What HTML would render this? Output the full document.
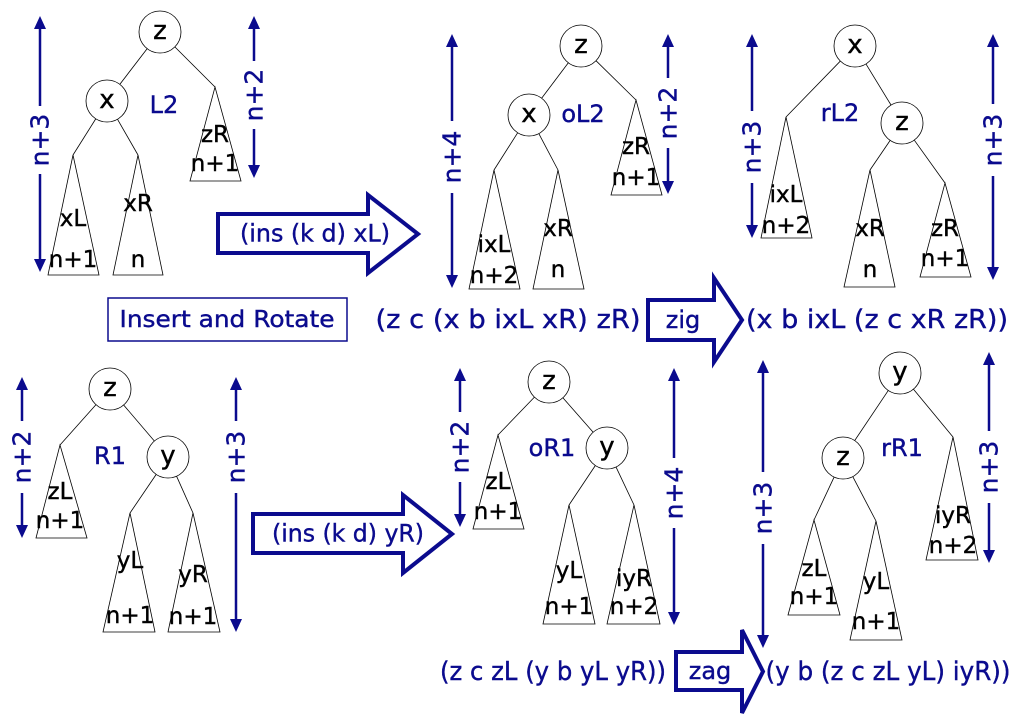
<!DOCTYPE html>
<html><head><meta charset="utf-8">
<style>
html,body{margin:0;padding:0;background:#fff;}
svg{display:block;}
text{font-family:"DejaVu Sans","Liberation Sans",sans-serif;}
</style></head>
<body>
<svg id="s" width="1018" height="720" viewBox="0 0 1018 720" xmlns="http://www.w3.org/2000/svg">
<rect width="1018" height="720" fill="#fff"/>
</svg>
<script>
const NS="http://www.w3.org/2000/svg";
const svg=document.getElementById('s');
const BLUE="#0b0b8e";
function mk(tag,attrs,name){
  const e=document.createElementNS(NS,tag);
  for(const k in attrs) e.setAttribute(k,attrs[k]);
  
  
  svg.appendChild(e);
  return e;
}
function txt(x,y,s,name,opts){
  opts=opts||{};
  const f=opts.fill||'#000';
  const t=mk('text',{x:x,y:y,'text-anchor':'middle','dominant-baseline':'central','font-size':opts.size||22,fill:f,stroke:f,'stroke-width':0.4},name);
  if(opts.rot) t.setAttribute('transform','rotate(-90 '+x+' '+y+')');
  if(opts.len){ t.setAttribute('textLength',opts.len); t.setAttribute('lengthAdjust','spacingAndGlyphs'); }
  t.textContent=s;
  return t;
}
function node(cx,cy,label,name){
  mk('circle',{cx:cx,cy:cy,r:21,fill:'#fff',stroke:'#000','stroke-width':0.8},name+'-circle');
  txt(cx,cy-1,label,name+'-label',{size:26});
}
function edge(cx,cy,x2,y2,name){
  const dx=x2-cx,dy=y2-cy,d=Math.hypot(dx,dy);
  mk('line',{x1:cx+dx/d*21,y1:cy+dy/d*21,x2:x2,y2:y2,stroke:'#000','stroke-width':0.8},name);
}
function tri(ax,ay,x1,x2,by,t1,t1y,t2,t2y,name){
  mk('polygon',{points:ax+','+ay+' '+x2+','+by+' '+x1+','+by,fill:'#fff',stroke:'#000','stroke-width':0.8},name+'-triangle');
  txt(ax,t1y,t1,name+'-name',{size:23});
  txt(ax,t2y,t2,name+'-height',{size:23});
}
function varrow(x,y1,y2,label,ly,gap,name){
  gap=gap+4;
  mk('line',{x1:x,y1:y1+10,x2:x,y2:ly-gap,stroke:BLUE,'stroke-width':2.5},name+'-upper-line');
  mk('line',{x1:x,y1:ly+gap,x2:x,y2:y2-10,stroke:BLUE,'stroke-width':2.5},name+'-lower-line');
  mk('polygon',{points:x+','+y1+' '+(x-6)+','+(y1+13)+' '+(x+6)+','+(y1+13),fill:BLUE},name+'-top-head');
  mk('polygon',{points:x+','+y2+' '+(x-6)+','+(y2-13)+' '+(x+6)+','+(y2-13),fill:BLUE},name+'-bottom-head');
  txt(x,ly,label,name+'-label',{fill:BLUE,rot:true,size:25});
}
function bigArrow(x1,top,bot,x2,htop,tip,hbot,label,tx,name,len){
  const my=(top+bot)/2;
  mk('polygon',{points:[x1+','+top,x2+','+top,x2+','+htop,tip+','+((htop+hbot)/2),x2+','+hbot,x2+','+bot,x1+','+bot].join(' '),fill:'#fff',stroke:BLUE,'stroke-width':4},name);
  txt(tx,my,label,name+'-label',{fill:BLUE,size:24,len:len});
}

/* ---- Top-left: L2 ---- */
varrow(40,16,272,'n+3',140,30,'tl-height-n3');
varrow(254,16,178,'n+2',95,30,'tl-height-n2');
edge(160,32,107,101,'tl-edge-z-x');
edge(160,32,215,87,'tl-edge-z-zR');
edge(107,101,73,155,'tl-edge-x-xL');
edge(107,101,138,155,'tl-edge-x-xR');
node(160,32,'z','tl-node-z');
node(107,101,'x','tl-node-x');
txt(164,105,'L2','tl-case-label',{fill:BLUE,size:24});
tri(215,87,190,241,181,'zR',135,'n+1',164,'tl-subtree-zR');
tri(73,155,48,99,275,'xL',219,'n+1',260,'tl-subtree-xL');
tri(138,155,113,163,275,'xR',204,'n',260,'tl-subtree-xR');
bigArrow(218,214,253,368,195,418,273,'(ins (k d) xL)',315,'tl-insert-arrow',150);
mk('rect',{x:108,y:298,width:239,height:43,fill:'#fff',stroke:BLUE,'stroke-width':1.5},'insert-rotate-box');
txt(227,320,'Insert and Rotate','insert-rotate-title',{fill:BLUE,size:23,len:215});

/* ---- Top-middle: oL2 ---- */
varrow(452,34,288,'n+4',157,32,'tm-height-n4');
varrow(668,34,194,'n+2',113,31,'tm-height-n2');
edge(581,46,529,115,'tm-edge-z-x');
edge(581,46,636,100,'tm-edge-z-zR');
edge(529,115,494,170,'tm-edge-x-ixL');
edge(529,115,558,170,'tm-edge-x-xR');
node(581,46,'z','tm-node-z');
node(529,115,'x','tm-node-x');
txt(583,114,'oL2','tm-case-label',{fill:BLUE,size:24});
tri(636,100,611,662,195,'zR',147,'n+1',178,'tm-subtree-zR');
tri(494,170,469,520,289,'ixL',245,'n+2',276,'tm-subtree-ixL');
tri(558,170,533,584,289,'xR',229,'n',270,'tm-subtree-xR');

/* ---- Top-right: rL2 ---- */
varrow(752,34,238,'n+3',147,32,'tr-height-n3-left');
varrow(993,34,280,'n+3',140,32,'tr-height-n3-right');
edge(855,46,786,117,'tr-edge-x-ixL');
edge(855,46,902,123,'tr-edge-x-z');
edge(902,123,870,170,'tr-edge-z-xR');
edge(902,123,945,183,'tr-edge-z-zR');
node(855,46,'x','tr-node-x');
node(902,123,'z','tr-node-z');
txt(840,113,'rL2','tr-case-label',{fill:BLUE,size:24});
tri(786,117,761,812,238,'ixL',195,'n+2',226,'tr-subtree-ixL');
tri(870,170,844,895,287,'xR',229,'n',270,'tr-subtree-xR');
tri(945,183,920,971,277,'zR',229,'n+1',259,'tr-subtree-zR');

/* ---- Middle expression row ---- */
txt(508,320,'(z c (x b ixL xR) zR)','zig-before-expr',{fill:BLUE,size:26,len:265});
bigArrow(648,300,340,714,278,742,362,'zig',683,'zig-arrow');
txt(877,320,'(x b ixL (z c xR zR))','zig-after-expr',{fill:BLUE,size:26,len:262});

/* ---- Bottom-left: R1 ---- */
varrow(22,377,538,'n+2',457,32,'bl-height-n2');
varrow(236,377,632,'n+3',457,32,'bl-height-n3');
edge(110,389,60,445,'bl-edge-z-zL');
edge(110,389,168,457,'bl-edge-z-y');
edge(168,457,130,513,'bl-edge-y-yL');
edge(168,457,193,513,'bl-edge-y-yR');
node(110,389,'z','bl-node-z');
node(168,457,'y','bl-node-y');
txt(110,456,'R1','bl-case-label',{fill:BLUE,size:24});
tri(60,445,36,87,538,'zL',492,'n+1',521,'bl-subtree-zL');
tri(130,513,103,155,632,'yL',561,'n+1',616,'bl-subtree-yL');
tri(193,513,168,220,632,'yR',575,'n+1',617,'bl-subtree-yR');
bigArrow(253,514,553,403,495,452,573,'(ins (k d) yR)',348,'bl-insert-arrow',152);

/* ---- Bottom-middle: oR1 ---- */
varrow(460,368,527,'n+2',447,31,'bm-height-n2');
varrow(674,368,625,'n+4',493,31,'bm-height-n4');
edge(549,382,498,435,'bm-edge-z-zL');
edge(549,382,607,448,'bm-edge-z-y');
edge(607,448,569,505,'bm-edge-y-yL');
edge(607,448,634,505,'bm-edge-y-iyR');
node(549,382,'z','bm-node-z');
node(607,448,'y','bm-node-y');
txt(552,448,'oR1','bm-case-label',{fill:BLUE,size:24});
tri(498,435,473,524,529,'zL',482,'n+1',512,'bm-subtree-zL');
tri(569,505,543,595,624,'yL',571,'n+1',607,'bm-subtree-yL');
tri(634,505,607,660,624,'iyR',579,'n+2',607,'bm-subtree-iyR');

/* ---- Bottom-right: rR1 ---- */
varrow(763,360,648,'n+3',508,32,'br-height-n3-left');
varrow(989,352,563,'n+3',467,32,'br-height-n3-right');
edge(900,373,843,458,'br-edge-y-z');
edge(900,373,953,437,'br-edge-y-iyR');
edge(843,458,814,520,'br-edge-z-zL');
edge(843,458,876,521,'br-edge-z-yL');
node(900,373,'y','br-node-y');
node(843,458,'z','br-node-z');
txt(902,448,'rR1','br-case-label',{fill:BLUE,size:24});
tri(953,437,926,978,560,'iyR',516,'n+2',546,'br-subtree-iyR');
tri(814,520,788,840,615,'zL',569,'n+1',597,'br-subtree-zL');
tri(876,521,850,902,640,'yL',582,'n+1',622,'br-subtree-yL');

/* ---- Bottom expression row ---- */
txt(553,672,'(z c zL (y b yL yR))','zag-before-expr',{fill:BLUE,size:26,len:226});
bigArrow(676,652,690,742,630,763,713,'zag',710,'zag-arrow');
txt(888,672,'(y b (z c zL yL) iyR))','zag-after-expr',{fill:BLUE,size:26,len:245});
</script>
</body></html>
